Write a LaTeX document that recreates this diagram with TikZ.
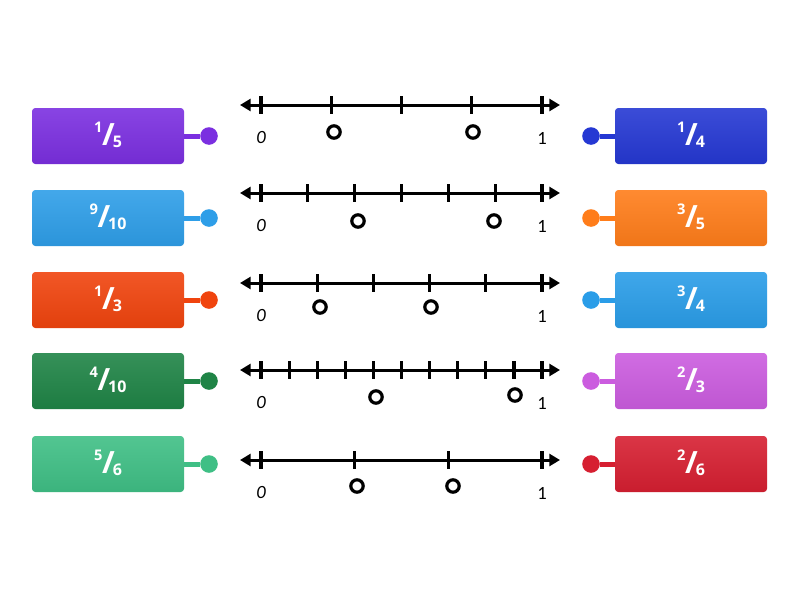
\documentclass[tikz,border=0pt]{standalone}
\usepackage{fontspec}
\setmainfont{Open Sans}
\newfontfamily\calib{Carlito}
\usetikzlibrary{arrows.meta}
\definecolor{cA}{HTML}{7B2FE0}
\definecolor{cB}{HTML}{2E9EE8}
\definecolor{cC}{HTML}{F0440E}
\definecolor{cD}{HTML}{1F8446}
\definecolor{cE}{HTML}{3FBF85}
\definecolor{cF}{HTML}{2538D3}
\definecolor{cG}{HTML}{FF7D1A}
\definecolor{cH}{HTML}{2A9DE8}
\definecolor{cI}{HTML}{CB5CDF}
\definecolor{cJ}{HTML}{D61F31}
\newcommand\frc[2]{\raisebox{9.5pt}{\fontsize{11}{11}\selectfont #1}\kern-0.3pt{\fontsize{23}{23}\selectfont/}\kern-1.5pt\raisebox{-1.9pt}{\fontsize{12}{12}\selectfont #2}}
\tikzset{
  fbox/.style={rounded corners=2.5pt, minimum width=114pt, minimum height=42pt,
    inner sep=0pt, text height=13.5pt, text depth=0pt, text=white, font=\bfseries,
    top color=#1!90!white, bottom color=#1!94!black, draw=none},
  knob/.style={circle, fill=#1, inner sep=0pt, minimum size=13.2pt},
  stem/.style={line width=3.75pt, draw=#1},
  nline/.style={line width=2.25pt, {Triangle[length=8pt,width=9pt]}-{Triangle[length=8pt,width=9pt]}},
  tickm/.style={line width=2.4pt},
  ticke/.style={line width=3.4pt},
  numlab/.style={font=\calib\fontsize{14}{14}\selectfont, inner sep=0pt},
  ring/.style={line width=2.4pt}
}
\begin{document}
\begin{tikzpicture}[x=0.75pt,y=-0.75pt]
\useasboundingbox[fill=white] (0,0) rectangle (800,600);
% left boxes
\foreach \nm/\c/\yy/\a/\b in {L1/cA/136/1/5, L2/cB/218/9/10, L3/cC/300/1/3, L4/cD/381/4/10, L5/cE/464/5/6}{
  \node[fbox=\c] (\nm) at (108,\yy) {\frc{\a}{\b}};
  \node[knob=\c] (d\nm) at (209,\yy) {};
  \draw[stem=\c] (\nm.east) -- (d\nm);
}
% right boxes
\foreach \nm/\c/\yy/\a/\b in {R1/cF/136/1/4, R2/cG/218/3/5, R3/cH/300/3/4, R4/cI/381/2/3, R5/cJ/464/2/6}{
  \node[fbox=\c] (\nm) at (691,\yy) {\frc{\a}{\b}};
  \node[knob=\c] (d\nm) at (591,\yy) {};
  \draw[stem=\c] (\nm.west) -- (d\nm);
}
% number lines
\foreach \y/\n in {105/4,193/6,283/5,370/10,460/3}{
  \draw[nline] (240,\y) -- (560,\y);
  \pgfmathtruncatemacro\m{\n-1}
  \foreach \k in {1,...,\m}{
    \draw[tickm] ({261+281*\k/\n},{\y-9}) -- ({261+281*\k/\n},{\y+9});
  }
  \draw[ticke] (261,{\y-9}) -- (261,{\y+9});
  \draw[ticke] (542,{\y-9}) -- (542,{\y+9});
  \node[numlab, font=\calib\itshape\fontsize{14}{14}\selectfont] at (261,{\y+33}) {0};
  \node[numlab] at (542,{\y+33}) {1};
}
% rings
\foreach \x/\y in {334/132, 473/132, 358/221, 494/221, 320/307, 431/307, 376/397, 515/395, 357/486, 453/486}{
  \draw[ring] (\x,\y) circle[radius=6.2];
}
\end{tikzpicture}
\end{document}
